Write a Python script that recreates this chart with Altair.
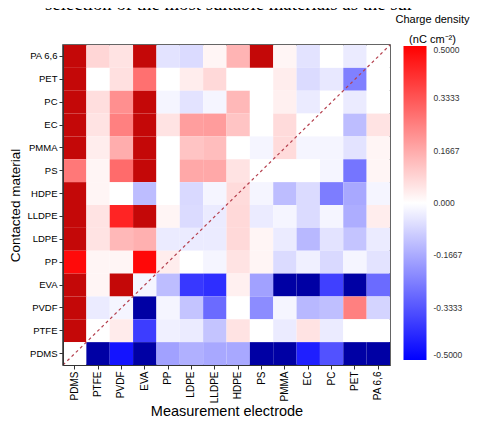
import altair as alt
import pandas as pd

rows = ["PA 6,6", "PET", "PC", "EC", "PMMA", "PS", "HDPE", "LLDPE", "LDPE", "PP",
        "EVA", "PVDF", "PTFE", "PDMS"]
cols = ["PDMS", "PTFE", "PVDF", "EVA", "PP", "LDPE", "LLDPE", "HDPE", "PS", "PMMA",
        "EC", "PC", "PET", "PA 6,6"]

# charge density (nC cm^-2), one list per contacted material (row), columns = measurement electrode
pa66 = [0.6, 0.08, 0.055, 0.6, -0.055, -0.07, 0.02, 0.147, 0.6, 0.02, -0.055, 0.0, -0.04, 0.0]
pet = [0.6, 0.0, 0.06, 0.28, 0.0, 0.035, 0.075, 0.0, 0.0, 0.035, -0.07, -0.045, -0.25, 0.0]
pc = [0.6, 0.065, 0.22, 0.6, -0.02, -0.055, -0.02, 0.14, 0.0, 0.03, -0.04, 0.0, -0.04, 0.0]
ec = [0.6, 0.055, 0.25, 0.6, 0.055, 0.19, 0.195, 0.115, 0.0, 0.07, 0.0, 0.0, -0.13, 0.055]
pmma = [0.6, 0.035, 0.16, 0.6, 0.0, 0.115, 0.13, 0.0, -0.02, 0.07, -0.02, -0.02, -0.055, 0.02]
ps = [0.265, 0.02, 0.29, 0.6, 0.0, 0.17, 0.17, 0.055, 0.0, 0.0, 0.0, -0.02, -0.27, 0.02]
hdpe = [0.6, 0.02, 0.0, -0.13, 0.0, -0.075, -0.02, 0.07, -0.02, -0.13, -0.07, -0.255, -0.17, -0.02]
lldpe = [0.6, 0.055, 0.43, 0.6, 0.02, -0.07, -0.04, 0.075, -0.04, -0.02, -0.07, -0.02, -0.16, 0.035]
ldpe = [0.6, 0.055, 0.14, 0.155, -0.04, -0.04, -0.04, 0.075, 0.02, -0.04, -0.14, -0.055, -0.115, -0.04]
pp = [0.48, 0.02, 0.02, 0.485, 0.035, 0.0, -0.02, 0.055, 0.02, -0.07, -0.03, -0.075, -0.02, -0.055]
eva = [0.6, 0.02, 0.6, -0.02, -0.13, -0.39, -0.41, 0.03, -0.185, -0.6, -0.6, -0.375, -0.6, -0.29]
pvdf = [0.6, -0.04, -0.02, -0.6, -0.02, -0.115, -0.29, 0.0, -0.225, -0.02, -0.14, -0.125, 0.25, -0.085]
ptfe = [0.6, 0.0, 0.04, -0.38, -0.03, -0.04, -0.115, 0.055, 0.0, -0.04, 0.055, -0.04, 0.0, 0.0]
pdms = [0.0, -0.6, -0.46, -0.6, -0.185, -0.155, -0.17, -0.17, -0.6, -0.6, -0.44, -0.34, -0.6, -0.6]

matrix = [pa66, pet, pc, ec, pmma, ps, hdpe, lldpe, ldpe, pp, eva, pvdf, ptfe, pdms]
legend_ticks = [0.5, 0.3333, 0.1667, 0.0, -0.1667, -0.3333, -0.5]
caption = ["selection of the most suitable materials as the sur"]

records = []
for r, vals in zip(rows, matrix):
    for c, v in zip(cols, vals):
        records.append({"row": r, "col": c, "v": v})
df = pd.DataFrame(records)

W, H = 327, 320
FONT = "Liberation Sans"

color = alt.Color(
    "v:Q",
    scale=alt.Scale(domain=[-0.5, 0, 0.5], range=["#0000ff", "#ffffff", "#ff0000"],
                    interpolate="rgb", clamp=True),
    condition=[
        {"test": "datum.v > 0.5", "value": "#c40808"},
        {"test": "datum.v < -0.5", "value": "#0000a4"},
    ],
    legend=alt.Legend(
        title=["Charge density", "(nC cm⁻²)"],
        orient="none", legendX=332.5, legendY=-31,
        direction="vertical",
        gradientLength=314, gradientThickness=23, gradientStrokeWidth=0,
        values=legend_ticks,
        labelExpr="datum.value == 0 ? '0.000' : replace(format(datum.value, '.4f'), '\u2212', '-')",
        labelFontSize=8.5, labelColor="#333", labelOffset=7, labelFont=FONT,
        titleFontSize=11, titleFontWeight="normal", titleColor="#000",
        titleFont=FONT, titleLineHeight=20, titleAnchor="middle",
        titlePadding=1,
    ),
)

heat = alt.Chart(df).mark_rect().encode(
    x=alt.X("col:N", sort=cols, scale=alt.Scale(paddingInner=0, paddingOuter=0),
            axis=alt.Axis(title="Measurement electrode", labelAngle=-90)),
    y=alt.Y("row:N", sort=rows, scale=alt.Scale(paddingInner=0, paddingOuter=0),
            axis=alt.Axis(title="Contacted material")),
    color=color,
)

diag = alt.Chart(pd.DataFrame({"d": [0]})).mark_rule(
    color="#b5404e", strokeDash=[3, 3], strokeWidth=1.2
).encode(
    x=alt.value(0), y=alt.value(H), x2=alt.value(W), y2=alt.value(0)
)

cap = alt.Chart(pd.DataFrame({"t": caption})).mark_text(
    font="Liberation Serif", fontSize=18.8, align="left", baseline="alphabetic", color="#000"
).encode(
    text="t:N", x=alt.value(-18), y=alt.value(-35)
)

chart = alt.layer(heat, diag, cap).properties(
    width=W, height=H,
    autosize=alt.AutoSizeParams(type="none"),
    padding={"left": 55, "top": 37, "right": 80, "bottom": 56},
).configure_view(
    stroke="#333", strokeWidth=1.5
).configure_axis(
    labelFont=FONT, titleFont=FONT, labelFontSize=10, labelColor="#000",
    titleFontWeight="normal", titleColor="#000",
    tickColor="#333", tickSize=4, domainColor="#333", labelPadding=2,
    grid=False,
).configure_axisX(
    titleFontSize=14.5, titlePadding=2
).configure_axisY(
    labelFontSize=9.5, titleFontSize=13.5, titlePadding=4
)

chart.save("out.html", embed_options={"renderer": "svg", "actions": False})
